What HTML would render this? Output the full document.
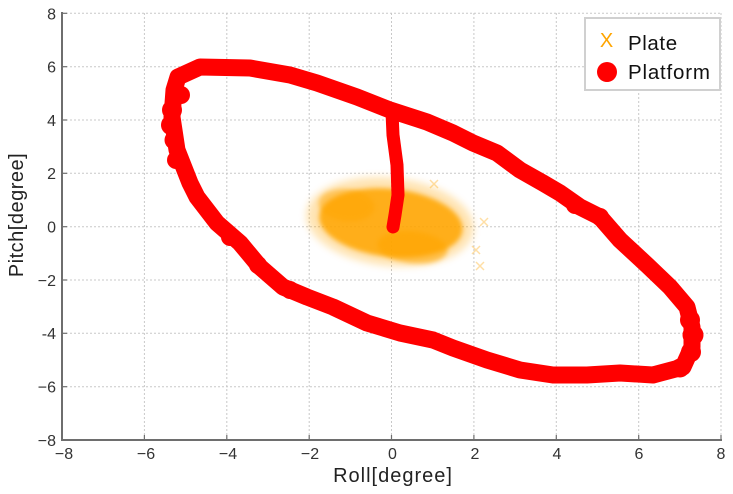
<!DOCTYPE html>
<html><head><meta charset="utf-8"><style>
html,body{margin:0;padding:0;background:#fff;}
svg{display:block;}
text{font-family:"Liberation Sans","DejaVu Sans",sans-serif;}
</style></head><body>
<svg width="733" height="494" viewBox="0 0 733 494" xmlns="http://www.w3.org/2000/svg">
<defs>
<filter id="b1" x="-50%" y="-50%" width="200%" height="200%"><feGaussianBlur stdDeviation="4"/></filter>
<filter id="b2" x="-50%" y="-50%" width="200%" height="200%"><feGaussianBlur stdDeviation="2.5"/></filter>
</defs>
<rect width="733" height="494" fill="#fff"/>
<!-- grid -->
<g stroke="#c8c8c8" stroke-width="1" stroke-dasharray="2,2" fill="none">
<line x1="144.4" y1="13" x2="144.4" y2="440"/>
<line x1="226.8" y1="13" x2="226.8" y2="440"/>
<line x1="309.2" y1="13" x2="309.2" y2="440"/>
<line x1="391.5" y1="13" x2="391.5" y2="440"/>
<line x1="473.9" y1="13" x2="473.9" y2="440"/>
<line x1="556.3" y1="13" x2="556.3" y2="440"/>
<line x1="638.7" y1="13" x2="638.7" y2="440"/>
<line x1="721" y1="13" x2="721" y2="440"/>
<line x1="62" y1="13.3" x2="721" y2="13.3"/>
<line x1="62" y1="66.7" x2="721" y2="66.7"/>
<line x1="62" y1="120" x2="721" y2="120"/>
<line x1="62" y1="173.3" x2="721" y2="173.3"/>
<line x1="62" y1="226.7" x2="721" y2="226.7"/>
<line x1="62" y1="280" x2="721" y2="280"/>
<line x1="62" y1="333.3" x2="721" y2="333.3"/>
<line x1="62" y1="386.7" x2="721" y2="386.7"/>
</g>
<!-- plate cloud -->
<g transform="rotate(6 392 222)">
<ellipse cx="390" cy="222" rx="84" ry="44" fill="#FFA500" opacity="0.3" filter="url(#b1)"/>
<ellipse cx="391" cy="223" rx="72" ry="34" fill="#FFA500" opacity="0.85" filter="url(#b2)"/>
<ellipse cx="345" cy="210" rx="28" ry="16" fill="#FFA500" opacity="0.5" filter="url(#b2)"/>
<ellipse cx="415" cy="245" rx="35" ry="16" fill="#FFA500" opacity="0.6" filter="url(#b2)"/>
</g>
<g stroke="#FFA500" stroke-width="1.5" opacity="0.35" fill="none">
<path d="M480 218l8 8M488 218l-8 8"/>
<path d="M476 262l8 8M484 262l-8 8"/>
<path d="M472 246l8 8M480 246l-8 8"/>
<path d="M430 180l8 8M438 180l-8 8"/>
</g>
<!-- platform loop -->
<g fill="none" stroke="#FF0000" stroke-linejoin="round" stroke-linecap="round">
<path stroke-width="17" d="M200 67 L178 77 L174 90 L172 117 L177 150 L190 183 L197 197 L217 223 L240 243 L260 267 L283 287 L307 297 L333 307 L367 323 L400 333 L433 340 L453 348 L487 360 L520 370 L553 375 L587 375 L620 373 L653 375 L683 367 L692 347 L692 327 L687 307 L670 287 L647 265 L620 240 L600 217 L580 207 L560 193 L543 183 L520 170 L497 153 L473 143 L453 133 L427 122 L390 110 L357 97 L317 83 L290 75 L250 68 Z"/>
<path stroke-width="13" d="M392 112 L393 135 L397 165 L398 195 L395 215 L393 227"/>
</g>
<g fill="#FF0000">
<circle cx="172" cy="110" r="10"/><circle cx="171" cy="125" r="10"/><circle cx="174" cy="140" r="9.5"/>
<circle cx="176" cy="160" r="9"/><circle cx="181" cy="95" r="9"/>
<circle cx="690" cy="320" r="10"/><circle cx="693" cy="335" r="10.5"/><circle cx="691" cy="352" r="10"/>
<circle cx="680" cy="368" r="9.5"/>
<circle cx="600" cy="217" r="9"/><circle cx="575" cy="205" r="9"/>
<circle cx="258" cy="265" r="9"/><circle cx="290" cy="290" r="9"/><circle cx="230" cy="237" r="9"/>
</g>
<!-- axes -->
<g stroke="#6e6e6e" stroke-width="2" fill="none">
<line x1="62" y1="12" x2="62" y2="441"/>
<line x1="61" y1="440" x2="722" y2="440"/>
</g>
<g stroke="#6e6e6e" stroke-width="1.2">
<line x1="62" y1="13.3" x2="67" y2="13.3"/><line x1="62" y1="66.7" x2="67" y2="66.7"/>
<line x1="62" y1="120" x2="67" y2="120"/><line x1="62" y1="173.3" x2="67" y2="173.3"/>
<line x1="62" y1="226.7" x2="67" y2="226.7"/><line x1="62" y1="280" x2="67" y2="280"/>
<line x1="62" y1="333.3" x2="67" y2="333.3"/><line x1="62" y1="386.7" x2="67" y2="386.7"/>
<line x1="144.4" y1="440" x2="144.4" y2="435"/><line x1="226.8" y1="440" x2="226.8" y2="435"/>
<line x1="309.2" y1="440" x2="309.2" y2="435"/><line x1="391.5" y1="440" x2="391.5" y2="435"/>
<line x1="473.9" y1="440" x2="473.9" y2="435"/><line x1="556.3" y1="440" x2="556.3" y2="435"/>
<line x1="638.7" y1="440" x2="638.7" y2="435"/><line x1="721" y1="440" x2="721" y2="435"/>
</g>
<!-- tick labels -->
<g font-size="16" fill="#333" text-anchor="end">
<text x="56" y="19.5">8</text>
<text x="56" y="72.5">6</text>
<text x="56" y="126">4</text>
<text x="56" y="179">2</text>
<text x="56" y="232.5">0</text>
<text x="56" y="286">−2</text>
<text x="56" y="339">-4</text>
<text x="56" y="392.5">−6</text>
<text x="56" y="446">−8</text>
</g>
<g font-size="16" fill="#333" text-anchor="middle">
<text x="64" y="459">−8</text>
<text x="146" y="459">−6</text>
<text x="228" y="459">−4</text>
<text x="310" y="459">−2</text>
<text x="392.5" y="459">0</text>
<text x="475" y="459">2</text>
<text x="557" y="459">4</text>
<text x="639" y="459">6</text>
<text x="721" y="459">8</text>
</g>
<!-- axis titles -->
<text x="393" y="482" font-size="20" fill="#222" text-anchor="middle" letter-spacing="1">Roll[degree]</text>
<text transform="translate(23 215) rotate(-90)" font-size="20" fill="#222" text-anchor="middle" letter-spacing="0.5">Pitch[degree]</text>
<!-- legend -->
<rect x="585" y="18" width="135" height="72" fill="#fff" stroke="#d0d0d0" stroke-width="2"/>
<text x="606.5" y="47" font-size="20" fill="#FFA500" text-anchor="middle">X</text>
<circle cx="607" cy="72" r="10" fill="#FF0000"/>
<text x="628" y="50" font-size="20.5" fill="#111" letter-spacing="0.6">Plate</text>
<text x="628" y="79" font-size="20.5" fill="#111" letter-spacing="0.8">Platform</text>
</svg>
</body></html>
